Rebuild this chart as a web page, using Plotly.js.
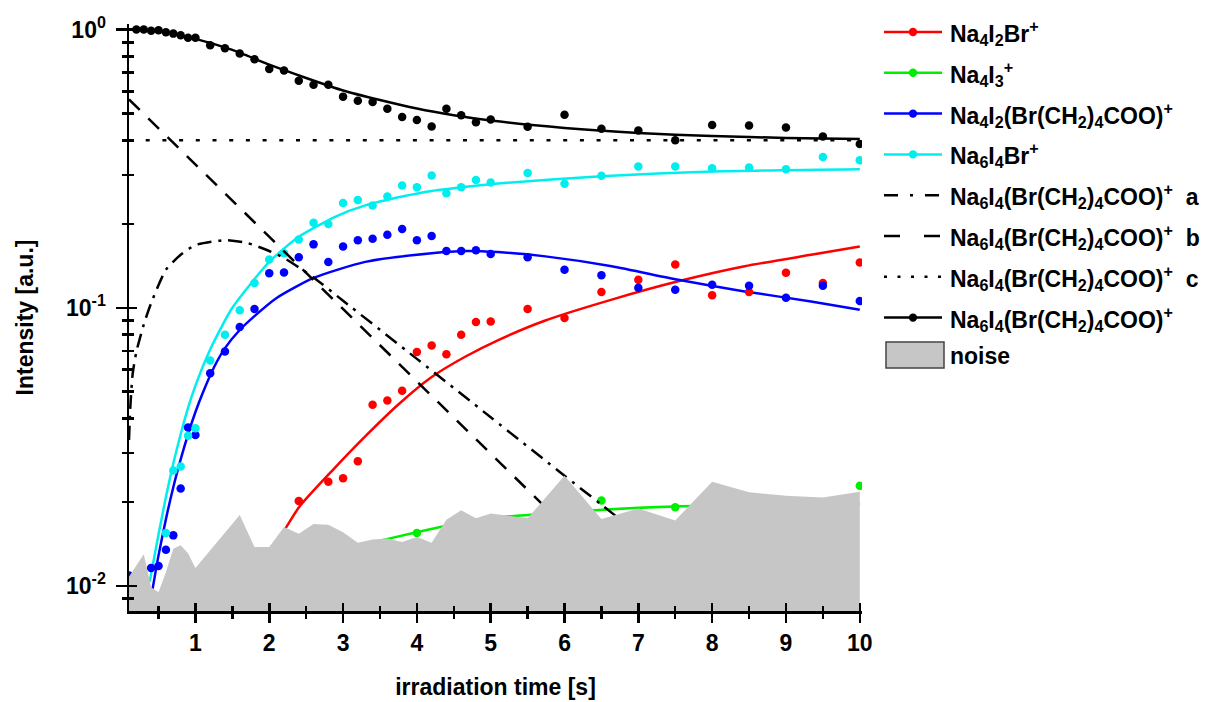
<!DOCTYPE html>
<html>
<head>
<meta charset="utf-8">
<script src="https://cdn.plot.ly/plotly-3.0.1.min.js"></script>
<style>
  html, body { margin: 0; padding: 0; background: #fff; }
  #chart { width: 1218px; height: 702px; }
</style>
</head>
<body>
<div id="chart"></div>
<script>
// ---- measured intensities (normalised) vs irradiation time [s] ----
const tRed = [2.4, 2.8, 3.0, 3.2, 3.4, 3.6, 3.8, 4.0, 4.2, 4.4, 4.6, 4.8, 5.0, 5.5, 6.0, 6.5, 7.0, 7.5, 8.0, 8.5, 9.0, 9.5, 10];
const yRed = [0.0202, 0.0237, 0.0244, 0.0281, 0.0448, 0.0464, 0.0503, 0.0693, 0.0732, 0.068, 0.080, 0.0889, 0.0893, 0.0989, 0.0918, 0.114, 0.126, 0.143, 0.111, 0.114, 0.1336, 0.1227, 0.1455];

const tGreen = [4.0, 6.5, 7.5, 10];
const yGreen = [0.0155, 0.0203, 0.0192, 0.0229];

const tBlue = [0.1, 0.4, 0.5, 0.6, 0.7, 0.8, 0.9, 1.0, 1.2, 1.4, 1.6, 1.8, 2.0, 2.2, 2.4, 2.6, 2.8, 3.0, 3.2, 3.4, 3.6, 3.8, 4.0, 4.2, 4.4, 4.6, 4.8, 5.0, 5.5, 6.0, 6.5, 7.0, 7.5, 8.0, 8.5, 9.0, 9.5, 10];
const yBlue = [0.0109, 0.0116, 0.0118, 0.0135, 0.0152, 0.0224, 0.0371, 0.0349, 0.0582, 0.0696, 0.0853, 0.099, 0.133, 0.134, 0.152, 0.169, 0.146, 0.166, 0.175, 0.177, 0.183, 0.192, 0.175, 0.181, 0.160, 0.160, 0.161, 0.156, 0.152, 0.137, 0.131, 0.118, 0.116, 0.121, 0.120, 0.1086, 0.120, 0.1057];

const tCyan = [0.6, 0.7, 0.8, 0.9, 1.0, 1.2, 1.4, 1.6, 1.8, 2.0, 2.2, 2.4, 2.6, 2.8, 3.0, 3.2, 3.4, 3.6, 3.8, 4.0, 4.2, 4.4, 4.6, 4.8, 5.0, 5.5, 6.0, 6.5, 7.0, 7.5, 8.0, 8.5, 9.0, 9.5, 10];
const yCyan = [0.0155, 0.026, 0.0269, 0.0347, 0.0369, 0.0646, 0.080, 0.098, 0.1227, 0.149, 0.157, 0.176, 0.202, 0.200, 0.238, 0.244, 0.233, 0.251, 0.275, 0.271, 0.299, 0.258, 0.271, 0.288, 0.282, 0.305, 0.279, 0.298, 0.322, 0.322, 0.317, 0.319, 0.315, 0.348, 0.339];

const tBlack = [0.2, 0.3, 0.4, 0.5, 0.6, 0.7, 0.8, 0.9, 1.0, 1.2, 1.4, 1.6, 1.8, 2.0, 2.2, 2.4, 2.6, 2.8, 3.0, 3.2, 3.4, 3.6, 3.8, 4.0, 4.2, 4.4, 4.6, 4.8, 5.0, 5.5, 6.0, 6.5, 7.0, 7.5, 8.0, 8.5, 9.0, 9.5, 10];
const yBlack = [1.0, 1.0, 0.99, 0.995, 0.978, 0.967, 0.954, 0.934, 0.934, 0.878, 0.857, 0.82, 0.782, 0.722, 0.712, 0.655, 0.633, 0.633, 0.574, 0.555, 0.549, 0.519, 0.485, 0.473, 0.448, 0.519, 0.492, 0.464, 0.475, 0.447, 0.494, 0.44, 0.434, 0.40, 0.454, 0.452, 0.445, 0.413, 0.388];

const tNoise = [0.1, 0.2, 0.3, 0.4, 0.5, 0.6, 0.7, 0.8, 0.9, 1.0, 1.2, 1.4, 1.6, 1.8, 2.0, 2.2, 2.4, 2.6, 2.8, 3.0, 3.2, 3.4, 3.6, 3.8, 4.0, 4.2, 4.4, 4.6, 4.8, 5.0, 5.5, 6.0, 6.5, 7.0, 7.5, 8.0, 8.5, 9.0, 9.5, 10];
const yNoise = [0.0108, 0.0118, 0.0130, 0.0099, 0.0095, 0.0112, 0.0136, 0.0140, 0.0131, 0.0116, 0.0134, 0.0156, 0.0180, 0.0138, 0.0138, 0.0163, 0.0154, 0.0167, 0.0166, 0.0156, 0.0143, 0.0147, 0.0148, 0.0144, 0.0150, 0.0143, 0.0173, 0.0187, 0.0175, 0.0182, 0.0175, 0.0249, 0.0174, 0.0190, 0.0172, 0.0237, 0.0217, 0.0211, 0.0208, 0.0218];

// ---- kinetic model curves ----
const tRedFit = [2.0, 2.22, 2.41, 2.86, 3.31, 3.76, 4.21, 4.66, 5.11, 5.74, 6.64, 7.54, 8.44, 9.34, 10];
const yRedFit = [0.0129, 0.0161, 0.0193, 0.0261, 0.0347, 0.0452, 0.0566, 0.0668, 0.0767, 0.090, 0.107, 0.1245, 0.141, 0.155, 0.166];

const tGreenFit = [3.0, 3.62, 4.8, 5.5, 6.46, 7.49, 10];
const yGreenFit = [0.0135, 0.0148, 0.0173, 0.018, 0.01876, 0.0193, 0.0197];

const tBlueFit = [0.42, 0.5, 0.6, 0.7, 0.8, 0.9, 1.0, 1.1, 1.25, 1.4, 1.6, 1.8, 2.1, 2.6, 3.3, 4.2, 4.66, 5.1, 5.74, 6.64, 7.54, 8.44, 9.34, 10];
const yBlueFit = [0.00977, 0.01288, 0.01738, 0.02265, 0.0285, 0.0351, 0.0422, 0.0495, 0.061, 0.0716, 0.0832, 0.0933, 0.1084, 0.128, 0.1462, 0.157, 0.160, 0.1585, 0.153, 0.141, 0.126, 0.1145, 0.1054, 0.0984];

const tCyanFit = [0.38, 0.45, 0.5, 0.6, 0.7, 0.8, 0.9, 1.0, 1.2, 1.5, 2.0, 2.4, 2.9, 3.3, 3.8, 4.2, 4.7, 5.1, 6.5, 8.0, 10];
const yCyanFit = [0.01035, 0.01303, 0.01531, 0.0209, 0.02754, 0.0351, 0.0437, 0.0525, 0.0708, 0.100, 0.1462, 0.1799, 0.2128, 0.2333, 0.2512, 0.263, 0.2729, 0.2799, 0.2972, 0.309, 0.3148];

const tA = [0.1, 0.12, 0.15, 0.2, 0.3, 0.4, 0.6, 0.8, 1.0, 1.4, 1.7, 2.0, 2.2, 2.6, 3.0, 4.0, 5.0, 6.0, 6.5, 10];
const yA = [0.0335, 0.045, 0.058, 0.0695, 0.087, 0.104, 0.137, 0.155, 0.168, 0.175, 0.171, 0.160, 0.151, 0.1285, 0.106, 0.0655, 0.0404, 0.0249, 0.0196, 0.0036];

const tB = [0.1, 10];
const yB = [0.561, 0.0015];

const tC = [0.1, 10];
const yC = [0.4, 0.4];

const tBlackFit = [0.1, 0.5, 1.0, 1.5, 2.0, 2.5, 3.0, 3.5, 4.0, 4.5, 5.0, 6.0, 7.0, 8.0, 9.0, 10];
const yBlackFit = [1.0, 0.986, 0.926, 0.845, 0.748, 0.67, 0.604, 0.558, 0.52, 0.492, 0.471, 0.443, 0.425, 0.414, 0.408, 0.404];

// ---- axis ticks ----
const xTicks = [1, 2, 3, 4, 5, 6, 7, 8, 9, 10];
const yTicks = [0.01, 0.1, 1];
const yTickText = ['10<sup>-2</sup>', '10<sup>-1</sup>', '10<sup>0</sup>'];
const yMinor = [0.009, 0.02, 0.03, 0.04, 0.05, 0.06, 0.07, 0.08, 0.09, 0.2, 0.3, 0.4, 0.5, 0.6, 0.7, 0.8, 0.9];

// ---- legend labels ----
const legendNames = [
  'Na<sub>4</sub>I<sub>2</sub>Br<sup>+</sup>',
  'Na<sub>4</sub>I<sub>3</sub><sup>+</sup>',
  'Na<sub>4</sub>I<sub>2</sub>(Br(CH<sub>2</sub>)<sub>4</sub>COO)<sup>+</sup>',
  'Na<sub>6</sub>I<sub>4</sub>Br<sup>+</sup>',
  'Na<sub>6</sub>I<sub>4</sub>(Br(CH<sub>2</sub>)<sub>4</sub>COO)<sup>+</sup>\u00a0 a',
  'Na<sub>6</sub>I<sub>4</sub>(Br(CH<sub>2</sub>)<sub>4</sub>COO)<sup>+</sup>\u00a0 b',
  'Na<sub>6</sub>I<sub>4</sub>(Br(CH<sub>2</sub>)<sub>4</sub>COO)<sup>+</sup>\u00a0 c',
  'Na<sub>6</sub>I<sub>4</sub>(Br(CH<sub>2</sub>)<sub>4</sub>COO)<sup>+</sup>'
];
const noiseName = 'noise';

const COL = { red: '#ff0000', green: '#00ee00', blue: '#0000ff', cyan: '#00eeee', black: '#000000', noise: '#c6c6c6' };
const LW = 2.5, MS = 8.5;

const DASH_A = '14px,7px,3px,7px';
const DASH_B = '15px,12px';
const DASH_C = '4px,12.7px';

const traces = [];
function fit(x, y, color, dash) {
  traces.push({ x: x, y: y, type: 'scatter', mode: 'lines', line: { color: color, width: LW, dash: dash || 'solid', shape: 'spline', smoothing: 0.6 }, showlegend: false, hoverinfo: 'skip' });
}
function pts(x, y, color) {
  traces.push({ x: x, y: y, type: 'scatter', mode: 'markers', marker: { color: color, size: MS }, showlegend: false });
}

fit(tRedFit, yRedFit, COL.red);
fit(tGreenFit, yGreenFit, COL.green);
fit(tBlueFit, yBlueFit, COL.blue);
fit(tCyanFit, yCyanFit, COL.cyan);
pts(tRed, yRed, COL.red);
pts(tGreen, yGreen, COL.green);
pts(tBlue, yBlue, COL.blue);
pts(tCyan, yCyan, COL.cyan);
fit(tA, yA, COL.black, DASH_A);
traces.push({ x: tB, y: yB, type: 'scatter', mode: 'lines', line: { color: '#000', width: LW, dash: DASH_B }, showlegend: false });
fit(tBlackFit, yBlackFit, COL.black);
pts(tBlack, yBlack, COL.black);

// noise floor, drawn over the curves
traces.push({ x: tNoise, y: yNoise, type: 'scatter', mode: 'lines', fill: 'tozeroy', fillcolor: COL.noise,
  line: { color: COL.noise, width: 0 }, name: noiseName, showlegend: false });

// horizontal offset level, on the tick-overlay axes
traces.push({ x: tC, y: yC, type: 'scatter', mode: 'lines', xaxis: 'x2', yaxis: 'y2',
  line: { color: '#000', width: LW, dash: DASH_C }, showlegend: false });

// ---- hand-built legend (paper coordinates, pixel-based layout) ----
const FONT = 'Liberation Sans, Arial, sans-serif';
const M = { l: 129, r: 356, t: 24, b: 91 };
const PW = 1218 - M.l - M.r, PH = 702 - M.t - M.b;
const px = v => (v - M.l) / PW;
const py = v => (702 - M.b - v) / PH;

const keyStyle = [
  { color: COL.red, dash: 'solid', dot: true },
  { color: COL.green, dash: 'solid', dot: true },
  { color: COL.blue, dash: 'solid', dot: true },
  { color: COL.cyan, dash: 'solid', dot: true },
  { color: '#000', dash: '14px,12px,3px,12px', dot: false },
  { color: '#000', dash: '16px,24px', dot: false },
  { color: '#000', dash: '3px,10.5px', dot: false },
  { color: '#000', dash: 'solid', dot: true }
];
const shapes = [], annotations = [];
const legFont = { family: FONT, size: 23, color: '#000', weight: 'bold' };
keyStyle.forEach((k, i) => {
  const yy = 32 + i * 40.8;
  shapes.push({ type: 'line', xref: 'paper', yref: 'paper', x0: px(884), x1: px(942), y0: py(yy), y1: py(yy),
    line: { color: k.color, width: LW, dash: k.dash } });
  if (k.dot) {
    shapes.push({ type: 'circle', xref: 'paper', yref: 'paper', xsizemode: 'pixel', ysizemode: 'pixel',
      xanchor: px(913), yanchor: py(yy), x0: -4.2, x1: 4.2, y0: -4.2, y1: 4.2,
      fillcolor: k.color, line: { width: 0 } });
  }
  annotations.push({ xref: 'paper', yref: 'paper', x: px(948), y: py(yy + 1), xanchor: 'left', yanchor: 'middle',
    text: legendNames[i], showarrow: false, font: legFont, align: 'left' });
});
shapes.push({ type: 'rect', xref: 'paper', yref: 'paper', x0: px(886), x1: px(944), y0: py(368), y1: py(342),
  fillcolor: COL.noise, line: { color: '#444', width: 1.5 } });
annotations.push({ xref: 'paper', yref: 'paper', x: px(948), y: py(356), xanchor: 'left', yanchor: 'middle',
  text: noiseName, showarrow: false, font: legFont });

const xRange = [0.1, 10.03];
const yRange = [-2.09, 0.02];
const tickFont = { family: FONT, size: 23, weight: 'bold' };

const layout = {
  width: 1218, height: 702,
  margin: M,
  paper_bgcolor: '#ffffff', plot_bgcolor: '#ffffff',
  font: { family: FONT, size: 23, color: '#000', weight: 'bold' },
  showlegend: false,
  shapes: shapes,
  annotations: annotations,
  xaxis: {
    range: xRange, tickmode: 'array', tickvals: xTicks, ticks: 'outside', ticklen: 9, tickwidth: 2.5, tickcolor: '#000',
    showline: true, linewidth: 2.5, linecolor: '#000', showgrid: false, zeroline: false, automargin: false,
    ticklabelstandoff: 1,
    tickfont: tickFont,
    minor: { tick0: 0, dtick: 0.5, ticks: 'outside', ticklen: 5, tickwidth: 2.5, tickcolor: '#000', showgrid: false },
    title: { text: 'irradiation time [s]', standoff: 24, font: tickFont }
  },
  yaxis: {
    type: 'log', range: yRange, tickmode: 'array', tickvals: yTicks, ticktext: yTickText,
    ticks: 'outside', ticklen: 11, tickwidth: 2.5, tickcolor: '#000',
    showline: true, linewidth: 2.5, linecolor: '#000', showgrid: false, zeroline: false, automargin: false,
    ticklabelstandoff: 5,
    tickfont: tickFont,
    minor: { tickmode: 'array', tickvals: yMinor, ticks: 'outside', ticklen: 5, tickwidth: 2.5, tickcolor: '#000', showgrid: false },
    title: { text: 'Intensity [a.u.]', standoff: 26, font: tickFont }
  },
  xaxis2: {
    overlaying: 'x', anchor: 'y2', side: 'bottom', range: xRange, tickmode: 'array', tickvals: xTicks,
    ticks: 'inside', ticklen: 8, tickwidth: 2.5, tickcolor: '#000', showticklabels: false,
    showline: false, showgrid: false, zeroline: false,
    minor: { tick0: 0, dtick: 0.5, ticks: 'inside', ticklen: 5, tickwidth: 2.5, tickcolor: '#000', showgrid: false }
  },
  yaxis2: {
    overlaying: 'y', anchor: 'x2', side: 'left', type: 'log', range: yRange, tickmode: 'array', tickvals: yTicks,
    ticks: 'inside', ticklen: 8, tickwidth: 2.5, tickcolor: '#000', showticklabels: false,
    showline: false, showgrid: false, zeroline: false,
    minor: { tickmode: 'array', tickvals: yMinor, ticks: 'inside', ticklen: 5, tickwidth: 2.5, tickcolor: '#000', showgrid: false }
  }
};

Plotly.newPlot('chart', traces, layout, { staticPlot: true, displayModeBar: false });
</script>
</body>
</html>
